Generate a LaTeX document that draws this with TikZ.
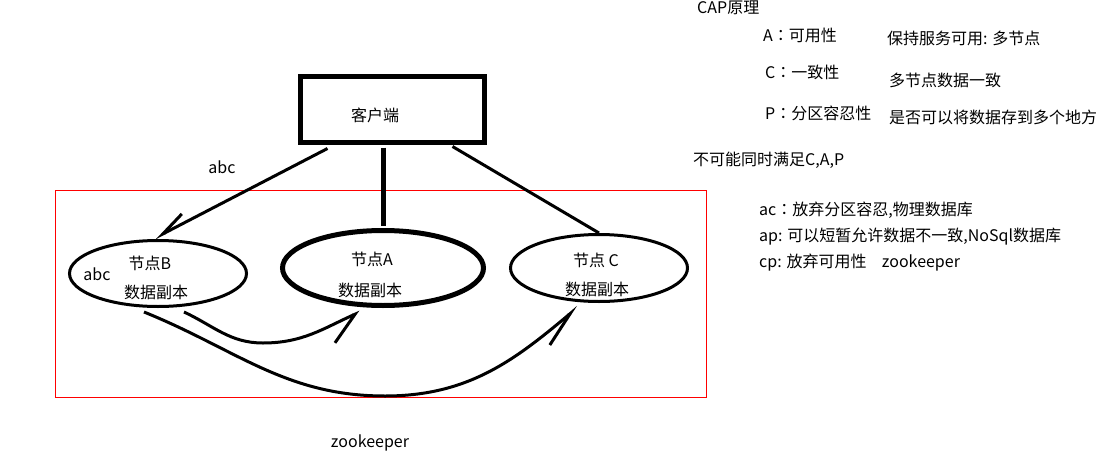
\documentclass[tikz,border=0pt]{standalone}
\usepackage{fontspec}
\setmainfont{Noto Sans CJK SC}
\newfontfamily\tcfont{Noto Sans CJK TC}
\newcommand{\fwcolon}{{\tcfont ：}}
\usetikzlibrary{positioning,shapes.geometric,arrows.meta}
\tikzset{
    >={Straight Barb[harpoon,swap,length=30pt,width=36pt]},
    txt/.style = {inner sep=0pt, font=\fontsize{16}{19}\selectfont},
    client/.style = {draw, line width=5pt, minimum width=184pt, minimum height=66pt},
    replica/.style = {draw, ellipse, line width=3pt, inner sep=0pt},
    link/.style = {line width=3pt},
}
\begin{document}
\begin{tikzpicture}[x=1pt, y=-1pt]
    \useasboundingbox (0,0) rectangle (1110,452);
    \draw [red, line width=1pt] (55.5,190.5) rectangle (706.5,397.5);

    \node (client) [client] at (392,109) {};
    \node (clientname) [txt] at (375,115) {客户端};

    \node (B) [replica, minimum width=177pt, minimum height=66pt] at (158,273.5) {};
    \node (A) [replica, line width=5pt, minimum width=201pt, minimum height=75pt] at (383,268) {};
    \node (C) [replica, minimum width=177pt, minimum height=67pt] at (599,268) {};

    \node (Bname) [txt] at (150,263) {节点B};
    \node (Bdata) [txt] at (156,292) {数据副本};
    \node (Babc) [txt] at (97,274) {abc};
    \node (Aname) [txt] at (372,259) {节点A};
    \node (Adata) [txt] at (370,290) {数据副本};
    \node (Cname) [txt] at (596,260) {节点 C};
    \node (Cdata) [txt] at (597,289) {数据副本};
    \node (abc) [txt] at (222,167) {abc};
    \node (zk) [txt] at (370,443) {zookeeper};

    \node (cap) [txt, anchor=west] at (697,8) {CAP原理};
    \node (Akey) [txt, anchor=west] at (763,35) {A\fwcolon 可用性};
    \node (Adesc) [txt, anchor=west] at (887,38) {保持服务可用: 多节点};
    \node (Ckey) [txt, anchor=west] at (765,72) {C\fwcolon 一致性};
    \node (Cdesc) [txt, anchor=west] at (889,80) {多节点数据一致};
    \node (Pkey) [txt, anchor=west] at (765,113) {P\fwcolon 分区容忍性};
    \node (Pdesc) [txt, anchor=west] at (889,117) {是否可以将数据存到多个地方};
    \node (nocap) [txt, anchor=west] at (693,160) {不可能同时满足C,A,P};
    \node (ac) [txt, anchor=west] at (759,210) {ac\fwcolon 放弃分区容忍,物理数据库};
    \node (ap) [txt, anchor=west] at (759,237) {ap: 可以短暂允许数据不一致,NoSql数据库};
    \node (cp) [txt, anchor=west] at (759,263) {cp: 放弃可用性};
    \node (cpzk) [txt, right=15pt of cp] {zookeeper};

    \coordinate (dipAB) at (263,343);
    \coordinate (dipAC) at (385,396);

    \draw [link, -{Straight Barb[harpoon,swap,length=26pt,width=18pt]}]
        ([xshift=30pt,yshift=-4pt]client.south west) -- ([xshift=-3pt,yshift=1pt]B.north);
    \draw [line width=5pt] ([xshift=-9pt,yshift=-3pt]client.south) -- ([yshift=2pt]A.north);
    \draw [link] ([xshift=-34pt,yshift=-2pt]client.south east) -- (C.north);

    \draw [link, ->] ([xshift=26pt,yshift=-4pt]B.south) to[out=-25,in=180] (dipAB)
        to[out=0,in=204] ([xshift=-23pt,yshift=-4pt]A.south);
    \draw [link, -{Straight Barb[harpoon,swap,length=36pt,width=22pt]}]
        ([xshift=-14pt,yshift=-4pt]B.south) to[out=-22,in=180] (dipAC)
        to[out=0,in=220] ([xshift=-21pt,yshift=-4pt]C.south);
\end{tikzpicture}
\end{document}
